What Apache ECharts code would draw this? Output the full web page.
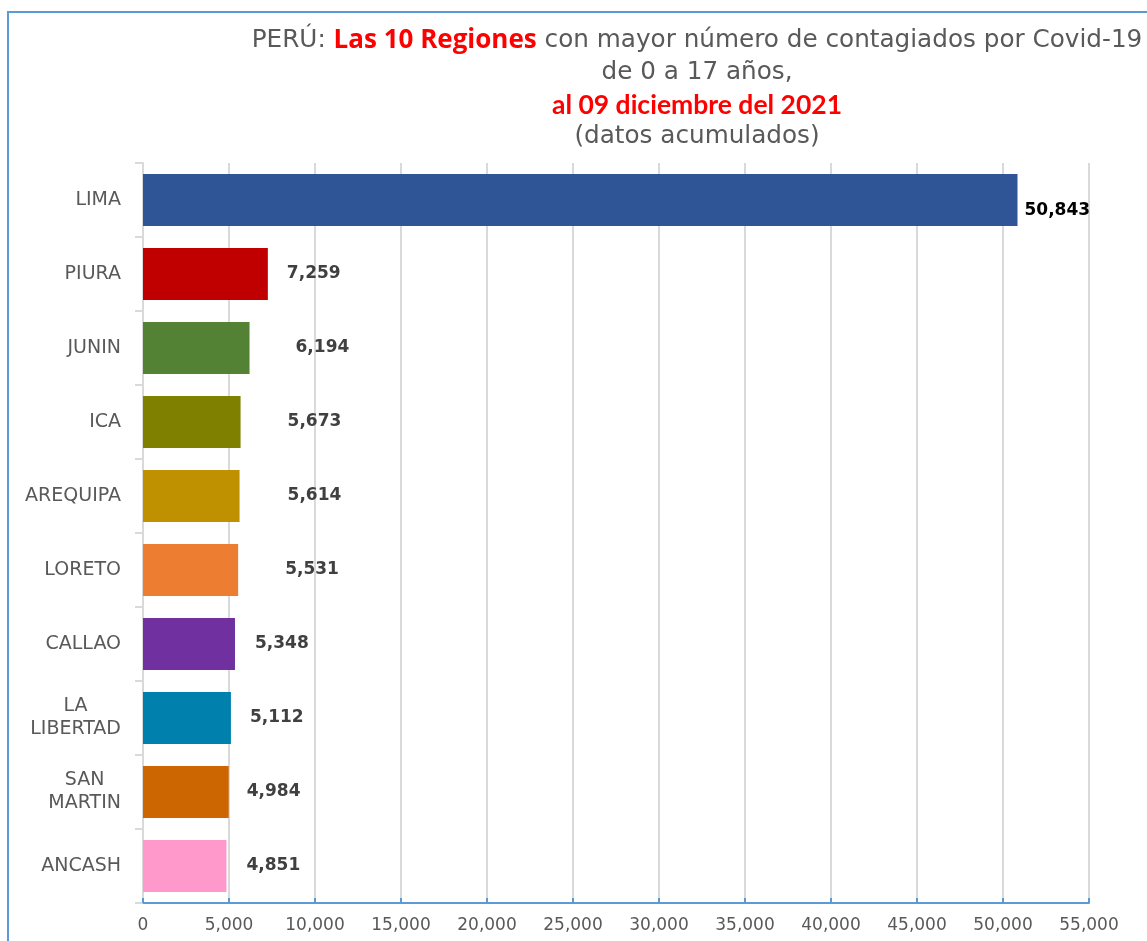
<!DOCTYPE html>
<html>
<head>
<meta charset="utf-8">
<script src="https://cdn.jsdelivr.net/npm/echarts@6/dist/echarts.min.js"></script>
<style>html,body{margin:0;padding:0;background:#fff}#c{width:1147px;height:941px}</style>
</head>
<body>
<div id="c"></div>
<script>
const categories = ['LIMA', 'PIURA', 'JUNIN', 'ICA', 'AREQUIPA', 'LORETO', 'CALLAO', 'LA LIBERTAD', 'SAN MARTIN', 'ANCASH'];
const values = [50843, 7259, 6194, 5673, 5614, 5531, 5348, 5112, 4984, 4851];
const barColors = ['#2f5597', '#c00000', '#548235', '#808000', '#bf9000', '#ed7d31', '#7030a0', '#0080ad', '#cc6600', '#ff99cc'];
const xTicks = { min: 0, max: 55000, interval: 5000 };
const labelGap = [7, 19, 46, 47, 48, 47, 20, 19, 18, 20];
const twoLine = ['LA LIBERTAD', 'SAN MARTIN'];

const catFont = '19px "DejaVu Sans"';
const ctx = document.createElement('canvas').getContext('2d');
ctx.font = catFont;
const wLib = Math.max(ctx.measureText('LA').width, ctx.measureText('LIBERTAD').width);
const wMar = Math.max(ctx.measureText('SAN').width, ctx.measureText('MARTIN').width);
function catFormatter(v) {
  if (twoLine.indexOf(v) < 0) return v;
  const key = v === 'LA LIBERTAD' ? 'lib' : 'mar';
  return v.split(' ').map(p => '{' + key + '|' + p + '}').join('\n');
}

const chart = echarts.init(document.getElementById('c'));
chart.setOption({
  backgroundColor: '#fff',
  animation: false,
  title: {
    left: 692,
    top: 20,
    textAlign: 'center',
    text: '{g|PERÚ: }{r|Las 10 Regiones}{g| con mayor número de contagiados por Covid-19}\n{g|de 0 a 17 años,}\n{r2|al 09 diciembre del 2021}\n{g|(datos acumulados)}',
    textStyle: {
      fontWeight: 'normal',
      rich: {
        g: { fontFamily: 'DejaVu Sans', fontWeight: 'normal', fontSize: 24.7, color: '#595959', lineHeight: 32 },
        r: { fontFamily: 'Open Sans', fontWeight: 'bold', fontSize: 26, color: '#ff0000', lineHeight: 32 },
        r2: { fontFamily: 'Lato', fontWeight: 'bold', fontSize: 26.5, color: '#ff0000', lineHeight: 32 }
      }
    }
  },
  graphic: [{
    type: 'rect',
    shape: { x: 8, y: 12, width: 1400, height: 1200 },
    style: { fill: 'none', stroke: '#5b9bd5', lineWidth: 2 },
    silent: true
  }],
  grid: { left: 143, right: 58, top: 163, bottom: 38, containLabel: false },
  xAxis: {
    type: 'value',
    min: xTicks.min, max: xTicks.max, interval: xTicks.interval,
    axisLine: { show: true, lineStyle: { color: '#5b9bd5', width: 2 } },
    axisTick: { show: true, inside: true, length: 5, lineStyle: { color: '#5b9bd5', width: 2 } },
    splitLine: { show: true, lineStyle: { color: '#d9d9d9', width: 2 } },
    axisLabel: {
      color: '#595959', fontFamily: 'DejaVu Sans', fontSize: 17, margin: 14,
      formatter: v => v.toLocaleString('en-US')
    }
  },
  yAxis: {
    type: 'category',
    inverse: true,
    data: categories,
    axisLine: { show: true, lineStyle: { color: '#d9d9d9', width: 2 } },
    axisTick: { show: true, length: 8, lineStyle: { color: '#d9d9d9', width: 2 } },
    axisLabel: {
      color: '#595959', fontFamily: 'DejaVu Sans', fontSize: 19, margin: 22, lineHeight: 23,
      formatter: catFormatter,
      rich: {
        lib: { color: '#595959', fontFamily: 'DejaVu Sans', fontSize: 19, lineHeight: 23, width: wLib, align: 'center' },
        mar: { color: '#595959', fontFamily: 'DejaVu Sans', fontSize: 19, lineHeight: 23, width: wMar, align: 'center' }
      }
    }
  },
  series: [{
    type: 'bar',
    barCategoryGap: '30%',
    data: values.map((v, i) => ({
      value: v,
      itemStyle: { color: barColors[i] },
      label: {
        distance: labelGap[i],
        offset: i === 0 ? [0, 11] : [0, 0],
        color: i === 0 ? '#000000' : '#404040'
      }
    })),
    label: {
      show: true,
      position: 'right',
      fontFamily: 'DejaVu Sans',
      fontWeight: 'bold',
      fontSize: 17,
      formatter: p => p.value.toLocaleString('en-US')
    }
  }]
});
</script>
</body>
</html>
